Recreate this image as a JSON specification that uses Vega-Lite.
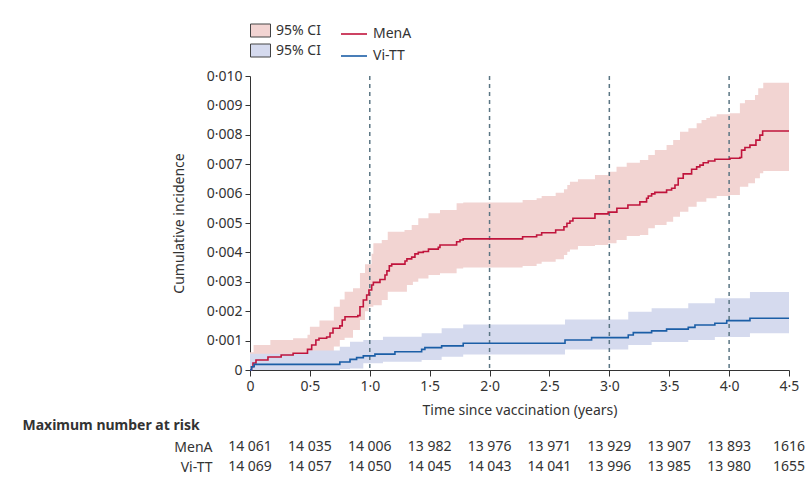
{
  "$schema": "https://vega.github.io/schema/vega-lite/v6.json",
  "background": "white",
  "padding": {"left": 22, "top": 20, "right": 10, "bottom": 5},
  "config": {
    "font": "Noto Sans",
    "view": {"stroke": null},
    "axis": {
      "labelFontSize": 14, "titleFontSize": 14, "titleFontWeight": "normal",
      "labelColor": "#333", "titleColor": "#333", "domainColor": "#333", "tickColor": "#333",
      "grid": false, "labelOverlap": false, "labelFlush": false
    },
    "legend": {"labelFontSize": 14, "labelColor": "#333", "padding": 0}
  },
  "datasets": {
    "curves": [
      {"series": "MenA", "t": 0, "v": 0}, {"series": "MenA", "t": 0.013, "v": 0.00011}, {"series": "MenA", "t": 0.025, "v": 0.00024},
      {"series": "MenA", "t": 0.05, "v": 0.00034}, {"series": "MenA", "t": 0.15, "v": 0.00044}, {"series": "MenA", "t": 0.26, "v": 0.00051},
      {"series": "MenA", "t": 0.36, "v": 0.00057}, {"series": "MenA", "t": 0.48, "v": 0.0007}, {"series": "MenA", "t": 0.515, "v": 0.00085},
      {"series": "MenA", "t": 0.55, "v": 0.00102}, {"series": "MenA", "t": 0.576, "v": 0.00108}, {"series": "MenA", "t": 0.64, "v": 0.00112},
      {"series": "MenA", "t": 0.668, "v": 0.00126}, {"series": "MenA", "t": 0.693, "v": 0.00142}, {"series": "MenA", "t": 0.75, "v": 0.0015},
      {"series": "MenA", "t": 0.77, "v": 0.0017}, {"series": "MenA", "t": 0.793, "v": 0.00181}, {"series": "MenA", "t": 0.9, "v": 0.00185},
      {"series": "MenA", "t": 0.918, "v": 0.00215}, {"series": "MenA", "t": 0.946, "v": 0.00238}, {"series": "MenA", "t": 0.974, "v": 0.00255},
      {"series": "MenA", "t": 0.993, "v": 0.00272}, {"series": "MenA", "t": 1.016, "v": 0.00289}, {"series": "MenA", "t": 1.03, "v": 0.00298},
      {"series": "MenA", "t": 1.085, "v": 0.00308}, {"series": "MenA", "t": 1.127, "v": 0.00323}, {"series": "MenA", "t": 1.143, "v": 0.00337},
      {"series": "MenA", "t": 1.163, "v": 0.00354}, {"series": "MenA", "t": 1.183, "v": 0.0036}, {"series": "MenA", "t": 1.294, "v": 0.00371},
      {"series": "MenA", "t": 1.31, "v": 0.00378}, {"series": "MenA", "t": 1.35, "v": 0.00384}, {"series": "MenA", "t": 1.377, "v": 0.00395},
      {"series": "MenA", "t": 1.405, "v": 0.004}, {"series": "MenA", "t": 1.447, "v": 0.00403}, {"series": "MenA", "t": 1.49, "v": 0.00411},
      {"series": "MenA", "t": 1.572, "v": 0.00417}, {"series": "MenA", "t": 1.586, "v": 0.00425}, {"series": "MenA", "t": 1.725, "v": 0.00436},
      {"series": "MenA", "t": 1.753, "v": 0.00442}, {"series": "MenA", "t": 1.78, "v": 0.00446}, {"series": "MenA", "t": 2.276, "v": 0.00453},
      {"series": "MenA", "t": 2.393, "v": 0.00459}, {"series": "MenA", "t": 2.435, "v": 0.00467}, {"series": "MenA", "t": 2.552, "v": 0.00476},
      {"series": "MenA", "t": 2.621, "v": 0.00487}, {"series": "MenA", "t": 2.646, "v": 0.00499}, {"series": "MenA", "t": 2.671, "v": 0.00507},
      {"series": "MenA", "t": 2.696, "v": 0.00516}, {"series": "MenA", "t": 2.88, "v": 0.00531}, {"series": "MenA", "t": 2.99, "v": 0.00537},
      {"series": "MenA", "t": 3.063, "v": 0.0055}, {"series": "MenA", "t": 3.155, "v": 0.00561}, {"series": "MenA", "t": 3.255, "v": 0.00572},
      {"series": "MenA", "t": 3.311, "v": 0.00584}, {"series": "MenA", "t": 3.325, "v": 0.00592}, {"series": "MenA", "t": 3.353, "v": 0.00599},
      {"series": "MenA", "t": 3.38, "v": 0.00604}, {"series": "MenA", "t": 3.478, "v": 0.00612}, {"series": "MenA", "t": 3.52, "v": 0.00618},
      {"series": "MenA", "t": 3.548, "v": 0.00629}, {"series": "MenA", "t": 3.575, "v": 0.00652}, {"series": "MenA", "t": 3.617, "v": 0.00667},
      {"series": "MenA", "t": 3.687, "v": 0.00683}, {"series": "MenA", "t": 3.729, "v": 0.00691}, {"series": "MenA", "t": 3.756, "v": 0.00697},
      {"series": "MenA", "t": 3.784, "v": 0.00705}, {"series": "MenA", "t": 3.826, "v": 0.00711}, {"series": "MenA", "t": 3.881, "v": 0.00717},
      {"series": "MenA", "t": 4.007, "v": 0.0072}, {"series": "MenA", "t": 4.09, "v": 0.00723}, {"series": "MenA", "t": 4.104, "v": 0.00748},
      {"series": "MenA", "t": 4.132, "v": 0.00757}, {"series": "MenA", "t": 4.174, "v": 0.00765}, {"series": "MenA", "t": 4.224, "v": 0.00782},
      {"series": "MenA", "t": 4.257, "v": 0.00799}, {"series": "MenA", "t": 4.28, "v": 0.00813}, {"series": "MenA", "t": 4.5, "v": 0.00813},
      {"series": "Vi-TT", "t": 0, "v": 0}, {"series": "Vi-TT", "t": 0.013, "v": 0.00011}, {"series": "Vi-TT", "t": 0.035, "v": 0.00019},
      {"series": "Vi-TT", "t": 0.75, "v": 0.00027}, {"series": "Vi-TT", "t": 0.835, "v": 0.00036}, {"series": "Vi-TT", "t": 0.89, "v": 0.00042},
      {"series": "Vi-TT", "t": 0.946, "v": 0.00048}, {"series": "Vi-TT", "t": 1.043, "v": 0.00054}, {"series": "Vi-TT", "t": 1.21, "v": 0.00062},
      {"series": "Vi-TT", "t": 1.433, "v": 0.0007}, {"series": "Vi-TT", "t": 1.46, "v": 0.00076}, {"series": "Vi-TT", "t": 1.6, "v": 0.00082},
      {"series": "Vi-TT", "t": 1.78, "v": 0.00091}, {"series": "Vi-TT", "t": 2.63, "v": 0.00102}, {"series": "Vi-TT", "t": 2.852, "v": 0.0011},
      {"series": "Vi-TT", "t": 3.158, "v": 0.00119}, {"series": "Vi-TT", "t": 3.2, "v": 0.00127}, {"series": "Vi-TT", "t": 3.353, "v": 0.00133},
      {"series": "Vi-TT", "t": 3.478, "v": 0.00139}, {"series": "Vi-TT", "t": 3.659, "v": 0.00145}, {"series": "Vi-TT", "t": 3.715, "v": 0.00153},
      {"series": "Vi-TT", "t": 3.881, "v": 0.00159}, {"series": "Vi-TT", "t": 3.98, "v": 0.00168}, {"series": "Vi-TT", "t": 4.174, "v": 0.00176},
      {"series": "Vi-TT", "t": 4.5, "v": 0.00176}
    ],
    "bands": [
      {"band": "MenA CI", "t": 0, "lo": 0, "hi": 0.0006}, {"band": "MenA CI", "t": 0.03, "lo": 0.00002, "hi": 0.00085},
      {"band": "MenA CI", "t": 0.17, "lo": 0.00008, "hi": 0.00102}, {"band": "MenA CI", "t": 0.36, "lo": 0.00015, "hi": 0.00108},
      {"band": "MenA CI", "t": 0.48, "lo": 0.00025, "hi": 0.0012}, {"band": "MenA CI", "t": 0.5, "lo": 0.0003, "hi": 0.00147},
      {"band": "MenA CI", "t": 0.58, "lo": 0.0005, "hi": 0.00168}, {"band": "MenA CI", "t": 0.7, "lo": 0.0008, "hi": 0.00215},
      {"band": "MenA CI", "t": 0.75, "lo": 0.00102, "hi": 0.0024}, {"band": "MenA CI", "t": 0.79, "lo": 0.0011, "hi": 0.00266},
      {"band": "MenA CI", "t": 0.86, "lo": 0.00136, "hi": 0.00278}, {"band": "MenA CI", "t": 0.918, "lo": 0.0017, "hi": 0.0033},
      {"band": "MenA CI", "t": 0.96, "lo": 0.002, "hi": 0.0036}, {"band": "MenA CI", "t": 0.99, "lo": 0.00215, "hi": 0.0036},
      {"band": "MenA CI", "t": 1.015, "lo": 0.00215, "hi": 0.00395}, {"band": "MenA CI", "t": 1.03, "lo": 0.0022, "hi": 0.00431},
      {"band": "MenA CI", "t": 1.1, "lo": 0.00238, "hi": 0.00442}, {"band": "MenA CI", "t": 1.15, "lo": 0.00266, "hi": 0.0047},
      {"band": "MenA CI", "t": 1.29, "lo": 0.00266, "hi": 0.00476}, {"band": "MenA CI", "t": 1.31, "lo": 0.00289, "hi": 0.00476},
      {"band": "MenA CI", "t": 1.35, "lo": 0.00289, "hi": 0.00493}, {"band": "MenA CI", "t": 1.36, "lo": 0.003, "hi": 0.00493},
      {"band": "MenA CI", "t": 1.405, "lo": 0.00311, "hi": 0.00516}, {"band": "MenA CI", "t": 1.49, "lo": 0.00323, "hi": 0.00533},
      {"band": "MenA CI", "t": 1.586, "lo": 0.00329, "hi": 0.00544}, {"band": "MenA CI", "t": 1.725, "lo": 0.00345, "hi": 0.00567},
      {"band": "MenA CI", "t": 1.78, "lo": 0.00349, "hi": 0.0057}, {"band": "MenA CI", "t": 2.276, "lo": 0.00354, "hi": 0.00578},
      {"band": "MenA CI", "t": 2.393, "lo": 0.00361, "hi": 0.00584}, {"band": "MenA CI", "t": 2.435, "lo": 0.00368, "hi": 0.00592},
      {"band": "MenA CI", "t": 2.552, "lo": 0.00377, "hi": 0.00603}, {"band": "MenA CI", "t": 2.621, "lo": 0.00391, "hi": 0.00615},
      {"band": "MenA CI", "t": 2.649, "lo": 0.00402, "hi": 0.00629}, {"band": "MenA CI", "t": 2.671, "lo": 0.0041, "hi": 0.0064},
      {"band": "MenA CI", "t": 2.738, "lo": 0.00422, "hi": 0.00649}, {"band": "MenA CI", "t": 2.88, "lo": 0.00425, "hi": 0.00663},
      {"band": "MenA CI", "t": 2.99, "lo": 0.00431, "hi": 0.00674}, {"band": "MenA CI", "t": 3.06, "lo": 0.00442, "hi": 0.00691},
      {"band": "MenA CI", "t": 3.145, "lo": 0.00456, "hi": 0.00705}, {"band": "MenA CI", "t": 3.255, "lo": 0.00459, "hi": 0.00714},
      {"band": "MenA CI", "t": 3.325, "lo": 0.00482, "hi": 0.00731}, {"band": "MenA CI", "t": 3.38, "lo": 0.00493, "hi": 0.00748},
      {"band": "MenA CI", "t": 3.478, "lo": 0.00504, "hi": 0.00765}, {"band": "MenA CI", "t": 3.533, "lo": 0.00521, "hi": 0.00782},
      {"band": "MenA CI", "t": 3.59, "lo": 0.00538, "hi": 0.0081}, {"band": "MenA CI", "t": 3.66, "lo": 0.00555, "hi": 0.00822},
      {"band": "MenA CI", "t": 3.729, "lo": 0.00572, "hi": 0.00839}, {"band": "MenA CI", "t": 3.77, "lo": 0.00572, "hi": 0.0085},
      {"band": "MenA CI", "t": 3.81, "lo": 0.00584, "hi": 0.00857}, {"band": "MenA CI", "t": 3.84, "lo": 0.00584, "hi": 0.00862},
      {"band": "MenA CI", "t": 3.896, "lo": 0.00592, "hi": 0.0087}, {"band": "MenA CI", "t": 4.007, "lo": 0.00595, "hi": 0.00873},
      {"band": "MenA CI", "t": 4.09, "lo": 0.00623, "hi": 0.00907}, {"band": "MenA CI", "t": 4.132, "lo": 0.00623, "hi": 0.00918},
      {"band": "MenA CI", "t": 4.16, "lo": 0.00635, "hi": 0.00918}, {"band": "MenA CI", "t": 4.216, "lo": 0.00652, "hi": 0.00935},
      {"band": "MenA CI", "t": 4.243, "lo": 0.00652, "hi": 0.00958}, {"band": "MenA CI", "t": 4.257, "lo": 0.00669, "hi": 0.00958},
      {"band": "MenA CI", "t": 4.285, "lo": 0.00677, "hi": 0.00977}, {"band": "MenA CI", "t": 4.5, "lo": 0.00677, "hi": 0.00977},
      {"band": "Vi-TT CI", "t": 0, "lo": 0, "hi": 0.00055}, {"band": "Vi-TT CI", "t": 0.48, "lo": 0, "hi": 0.00066},
      {"band": "Vi-TT CI", "t": 0.75, "lo": 0.00003, "hi": 0.00079}, {"band": "Vi-TT CI", "t": 0.835, "lo": 0.00005, "hi": 0.00096},
      {"band": "Vi-TT CI", "t": 0.946, "lo": 0.00023, "hi": 0.00102}, {"band": "Vi-TT CI", "t": 1.11, "lo": 0.00028, "hi": 0.00113},
      {"band": "Vi-TT CI", "t": 1.433, "lo": 0.00034, "hi": 0.00125}, {"band": "Vi-TT CI", "t": 1.6, "lo": 0.00045, "hi": 0.00142},
      {"band": "Vi-TT CI", "t": 1.78, "lo": 0.00053, "hi": 0.00155}, {"band": "Vi-TT CI", "t": 2.63, "lo": 0.0007, "hi": 0.00172},
      {"band": "Vi-TT CI", "t": 3.158, "lo": 0.00085, "hi": 0.00198}, {"band": "Vi-TT CI", "t": 3.353, "lo": 0.00095, "hi": 0.0021},
      {"band": "Vi-TT CI", "t": 3.659, "lo": 0.00102, "hi": 0.00227}, {"band": "Vi-TT CI", "t": 3.881, "lo": 0.00112, "hi": 0.00244},
      {"band": "Vi-TT CI", "t": 4.174, "lo": 0.00125, "hi": 0.00265}, {"band": "Vi-TT CI", "t": 4.5, "lo": 0.00125, "hi": 0.00265}
    ],
    "refs": [{"t": 1}, {"t": 2}, {"t": 3}, {"t": 4}],
    "risk": [
      {"group": "MenA", "t": 0, "n": "14 061"}, {"group": "MenA", "t": 0.5, "n": "14 035"}, {"group": "MenA", "t": 1, "n": "14 006"},
      {"group": "MenA", "t": 1.5, "n": "13 982"}, {"group": "MenA", "t": 2, "n": "13 976"}, {"group": "MenA", "t": 2.5, "n": "13 971"},
      {"group": "MenA", "t": 3, "n": "13 929"}, {"group": "MenA", "t": 3.5, "n": "13 907"}, {"group": "MenA", "t": 4, "n": "13 893"},
      {"group": "MenA", "t": 4.5, "n": "1616"},
      {"group": "Vi-TT", "t": 0, "n": "14 069"}, {"group": "Vi-TT", "t": 0.5, "n": "14 057"}, {"group": "Vi-TT", "t": 1, "n": "14 050"},
      {"group": "Vi-TT", "t": 1.5, "n": "14 045"}, {"group": "Vi-TT", "t": 2, "n": "14 043"}, {"group": "Vi-TT", "t": 2.5, "n": "14 041"},
      {"group": "Vi-TT", "t": 3, "n": "13 996"}, {"group": "Vi-TT", "t": 3.5, "n": "13 985"}, {"group": "Vi-TT", "t": 4, "n": "13 980"},
      {"group": "Vi-TT", "t": 4.5, "n": "1655"}
    ]
  },
  "bounds": "flush",
  "spacing": 67,
  "resolve": {"legend": {"fill": "independent", "stroke": "independent"}},
  "vconcat": [
    {
      "width": 539,
      "height": 294,
      "encoding": {
        "x": {
          "field": "t", "type": "quantitative",
          "scale": {"domain": [0, 4.5], "nice": false, "zero": false},
          "axis": {
            "values": [0, 0.5, 1, 1.5, 2, 2.5, 3, 3.5, 4, 4.5],
            "labelExpr": "datum.value == 0 ? '0' : replace(format(datum.value, '.1f'), '.', '·')",
            "title": "Time since vaccination (years)",
            "tickSize": 6, "labelPadding": 3, "titlePadding": 10, "labelOverlap": false
          }
        }
      },
      "layer": [
        {
          "data": {"name": "bands"},
          "mark": {"type": "area", "interpolate": "step-after"},
          "encoding": {
            "y": {
              "field": "lo", "type": "quantitative", "stack": null,
              "scale": {"domain": [0, 0.01], "nice": false},
              "axis": {
                "values": [0, 0.001, 0.002, 0.003, 0.004, 0.005, 0.006, 0.007, 0.008, 0.009, 0.01],
                "labelExpr": "datum.value == 0 ? '0' : replace(format(datum.value, '.3f'), '.', '·')",
                "title": "Cumulative incidence", "labelOverlap": false,
                "tickSize": 5, "labelPadding": 3, "titlePadding": 20
              }
            },
            "y2": {"field": "hi"},
            "fill": {
              "field": "band", "type": "nominal",
              "scale": {"domain": ["MenA CI", "Vi-TT CI"], "range": ["#f2d4d2", "#d5daee"]},
              "legend": {
                "orient": "none", "legendX": 0, "legendY": -56, "title": null,
                "symbolType": "M-1,-0.65H1V0.65H-1Z", "symbolSize": 400,
                "symbolStrokeColor": "#444", "symbolStrokeWidth": 1,
                "labelExpr": "'95% CI'", "labelOffset": 5, "rowPadding": 1
              }
            }
          }
        },
        {
          "data": {"name": "refs"},
          "mark": {"type": "rule", "strokeDash": [4, 4], "strokeWidth": 1.5, "color": "#5b7684"},
          "encoding": {}
        },
        {
          "data": {"name": "curves"},
          "mark": {"type": "line", "interpolate": "step-after", "strokeWidth": 1.6},
          "encoding": {
            "y": {
              "field": "v", "type": "quantitative",
              "scale": {"domain": [0, 0.01], "nice": false},
              "axis": {
                "values": [0, 0.001, 0.002, 0.003, 0.004, 0.005, 0.006, 0.007, 0.008, 0.009, 0.01],
                "labelExpr": "datum.value == 0 ? '0' : replace(format(datum.value, '.3f'), '.', '·')",
                "title": "Cumulative incidence", "labelOverlap": false,
                "tickSize": 5, "labelPadding": 3, "titlePadding": 20
              }
            },
            "stroke": {
              "field": "series", "type": "nominal",
              "scale": {"domain": ["MenA", "Vi-TT"], "range": ["#c0143c", "#1b5ea6"]},
              "legend": {
                "orient": "none", "legendX": 90, "legendY": -56, "title": null,
                "symbolType": "stroke", "symbolSize": 676, "symbolStrokeWidth": 1.6,
                "labelOffset": 5, "rowPadding": 1
              }
            }
          }
        }
      ]
    },
    {
      "width": 539,
      "height": 40,
      "data": {"name": "risk"},
      "mark": {"type": "text", "fontSize": 14, "color": "#333"},
      "encoding": {
        "x": {"field": "t", "type": "quantitative", "scale": {"domain": [0, 4.5], "nice": false}, "axis": null},
        "y": {
          "field": "group", "type": "nominal",
          "scale": {"domain": ["MenA", "Vi-TT"]},
          "axis": {
            "domain": false, "ticks": false, "labelPadding": 38,
            "title": "Maximum number at risk", "titleAngle": 0, "titleAlign": "left",
            "titleBaseline": "middle", "titleX": -228, "titleY": -12,
            "titleFontWeight": "bold", "titleFontSize": 14
          }
        },
        "text": {"field": "n"}
      }
    }
  ]
}
